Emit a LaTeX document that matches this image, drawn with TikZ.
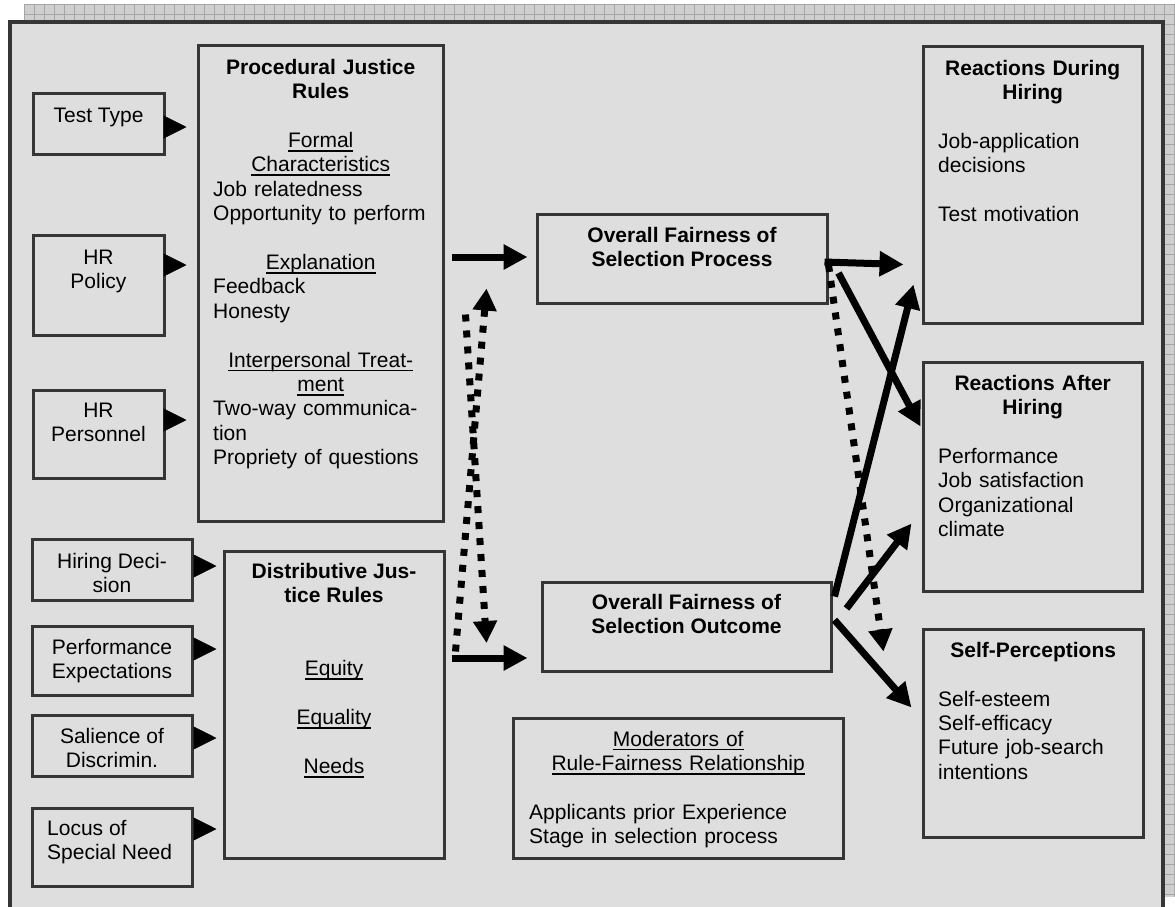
\documentclass[tikz,border=0pt]{standalone}
\usepackage{fontspec}
\setmainfont{Liberation Sans}
\usetikzlibrary{arrows.meta,calc}
\definecolor{bgc}{HTML}{DEDEDE}
\definecolor{bdc}{HTML}{363636}
\definecolor{gridbg}{HTML}{CFCFCF}
\definecolor{gridln}{HTML}{A6A6A6}
\newcommand\fs{\rule{0pt}{16pt}}
\newcommand\undl[1]{\leavevmode\setbox0\hbox{#1}\rlap{\rule[-4.2pt]{\wd0}{1.7pt}}\box0}
\newcommand\ctr[2]{\makebox[#1][c]{#2}}
\begin{document}
\begin{tikzpicture}[x=1pt,y=-1pt,
  font=\fontsize{21}{24.4}\selectfont,
  box/.style={draw=bdc, line width=3pt, fill=bgc, inner sep=0pt, rectangle},
  txt/.style={inner sep=0pt, align=center},
  ltxt/.style={inner sep=0pt, align=left, text width=#1},
  tri/.style={line width=0.8pt, -{Triangle[length=23pt,width=23pt]}},
  bigarr/.style={line width=7pt, -{Triangle[length=24pt,width=24pt]}},
  dotarr/.style={line width=7pt, dash pattern=on 7pt off 9pt, -{Triangle[length=22pt,width=23pt]}}
]
\useasboundingbox (0,0) rectangle (1175,906);
\begin{scope}
\clip (0,0) rectangle (1175,906);
\fill[white] (0,0) rectangle (1175,906);
\fill[gridbg] (24,4) rectangle (1175,897);
\foreach \gx in {24,34,...,1175} \draw[gridln, line width=0.6pt] (\gx,4) -- (\gx,897);
\foreach \gy in {4,14,...,897} \draw[gridln, line width=0.6pt] (24,\gy) -- (1175,\gy);
\draw[line width=4pt, draw=bdc, fill=bgc] (10,22) rectangle (1163,940);
\end{scope}

% boxes
\node[box, minimum width=131pt, minimum height=61pt] (tt) at (98.5,123.5) {};
\node[box, minimum width=131pt, minimum height=100pt] (hrpol) at (98.5,285) {};
\node[box, minimum width=131pt, minimum height=88pt] (hrper) at (98.5,434) {};
\node[box, minimum width=245pt, minimum height=476pt] (pjr) at (320.5,283) {};
\node[box, minimum width=160pt, minimum height=61pt] (hd) at (112,569.5) {};
\node[box, minimum width=160pt, minimum height=69pt] (pe) at (112,660.5) {};
\node[box, minimum width=160pt, minimum height=61pt] (sd) at (112,745.5) {};
\node[box, minimum width=160pt, minimum height=78pt] (lsn) at (112,847) {};
\node[box, minimum width=220pt, minimum height=307pt] (djr) at (334,704.5) {};
\node[box, minimum width=290pt, minimum height=89pt] (ofp) at (682,258.5) {};
\node[box, minimum width=289pt, minimum height=89pt] (ofo) at (686.5,626.5) {};
\node[box, minimum width=330pt, minimum height=140pt] (mod) at (678,788) {};
\node[box, minimum width=219pt, minimum height=277pt] (rdh) at (1032.5,184.5) {};
\node[box, minimum width=219pt, minimum height=229pt] (rah) at (1032.5,476.5) {};
\node[box, minimum width=220pt, minimum height=208pt] (sp) at (1033,733) {};

% texts
\node[txt, anchor=base] (ttt) at (98.5,122) {Test Type};
\node[txt, anchor=north] (hrpolt) at (98.5,248) {\fs HR\\Policy};
\node[txt, anchor=north] (hrpert) at (98.5,401) {\fs HR\\Personnel};
\node[txt, anchor=north] (hdt) at (112,552) {\fs Hiring Deci-\\sion};
\node[txt, anchor=north] (pet) at (112,638) {\fs Performance\\Expectations};
\node[txt, anchor=north] (sdt) at (112,727) {\fs Salience of\\Discrimin.};
\node[inner sep=0pt, align=left, anchor=north west] (lsnt) at (47,819) {\fs Locus of\\Special Need};

\node[ltxt=250pt, anchor=north west] (pjrt) at (213,58) {%
\ctr{215pt}{\fs\textbf{Procedural Justice}}\\
\ctr{215pt}{\textbf{Rules}}\\[24.4pt]
\ctr{215pt}{\undl{Formal}}\\
\ctr{215pt}{\undl{Characteristics}}\\
Job relatedness\\
Opportunity to perform\\[24.4pt]
\ctr{215pt}{\undl{Explanation}}\\
Feedback\\
Honesty\\[24.4pt]
\ctr{215pt}{\undl{Interpersonal Treat-}}\\
\ctr{215pt}{\undl{ment}}\\
Two-way communica-\\
tion\\
Propriety of questions};

\node[txt, anchor=north] (djrt) at (334,562) {\fs\textbf{Distributive Jus-}\\\textbf{tice Rules}\\[48.8pt]\undl{Equity}\\[24.4pt]\undl{Equality}\\[24.4pt]\undl{Needs}};

\node[txt, anchor=north] (ofpt) at (682,226) {\fs\textbf{Overall Fairness of}\\\textbf{Selection Process}};
\node[txt, anchor=north] (ofot) at (686.5,593) {\fs\textbf{Overall Fairness of}\\\textbf{Selection Outcome}};

\node[ltxt=320pt, anchor=north west] (modt) at (529,730) {%
\ctr{298pt}{\fs\undl{Moderators of}}\\
\ctr{298pt}{\undl{Rule-Fairness Relationship}}\\[24.4pt]
Applicants prior Experience\\
Stage in selection process};

\node[ltxt=200pt, anchor=north west] (rdht) at (938,59) {%
\ctr{189pt}{\fs\textbf{Reactions During}}\\
\ctr{189pt}{\textbf{Hiring}}\\[24.4pt]
Job-application\\
decisions\\[24.4pt]
Test motivation};

\node[ltxt=200pt, anchor=north west] (raht) at (938,374) {%
\ctr{189pt}{\fs\textbf{Reactions After}}\\
\ctr{189pt}{\textbf{Hiring}}\\[24.4pt]
Performance\\
Job satisfaction\\
Organizational\\
climate};

\node[ltxt=200pt, anchor=north west] (spt) at (938,641) {%
\ctr{190pt}{\fs\textbf{Self-Perceptions}}\\[24.4pt]
Self-esteem\\
Self-efficacy\\
Future job-search\\
intentions};

% input triangles
\draw[tri, shorten >=10pt] (tt.east |- 0,127) -- (pjr.west |- 0,127);
\draw[tri, shorten >=10pt] (hrpol.east |- 0,265) -- (pjr.west |- 0,265);
\draw[tri, shorten >=10pt] (hrper.east |- 0,420) -- (pjr.west |- 0,420);
\draw[tri, shorten <=3pt, shorten >=6pt] (hd.east |- 0,566) -- (djr.west |- 0,566);
\draw[tri, shorten <=3pt, shorten >=6pt] (pe.east |- 0,649) -- (djr.west |- 0,649);
\draw[tri, shorten <=3pt, shorten >=6pt] (sd.east |- 0,738) -- (djr.west |- 0,738);
\draw[tri, shorten <=3pt, shorten >=6pt] (lsn.east |- 0,829) -- (djr.west |- 0,829);

% main arrows
\draw[bigarr, shorten <=7pt, shorten >=8pt] (pjr.east |- 0,257) -- (ofp.west |- 0,257);
\draw[bigarr, shorten <=6pt, shorten >=13pt] (djr.east |- 0,658) -- (ofo.west |- 0,658);
\draw[dotarr] ($(ofo.west)+(-85,25)$) -- ($(ofp.south west)+(-49,-16)$);
\draw[dotarr] ($(ofp.south west)+(-70,10)$) -- ($(ofo.west)+(-54,16.5)$);

\draw[bigarr] ($(ofp.east)+(-4,3.5)$) -- ($(rdh.south west)+(-18,-60)$);
\draw[bigarr] ($(ofp.east)+(10,14.5)$) -- ($(rah.north west)+(-1,66)$);
\draw[dotarr] ($(ofp.east)+(0,6.5)$) -- ($(sp.north west)+(-38,24)$);
\draw[bigarr] ($(ofo.north east)+(2,16)$) -- ($(rdh.south west)+(-8,-40)$);
\draw[bigarr] ($(ofo.north east)+(14,28)$) -- ($(rah.south west)+(-10,-69)$);
\draw[bigarr] ($(ofo.east)+(2,-6.5)$) -- ($(sp.north west)+(-10,80)$);
\end{tikzpicture}
\end{document}
